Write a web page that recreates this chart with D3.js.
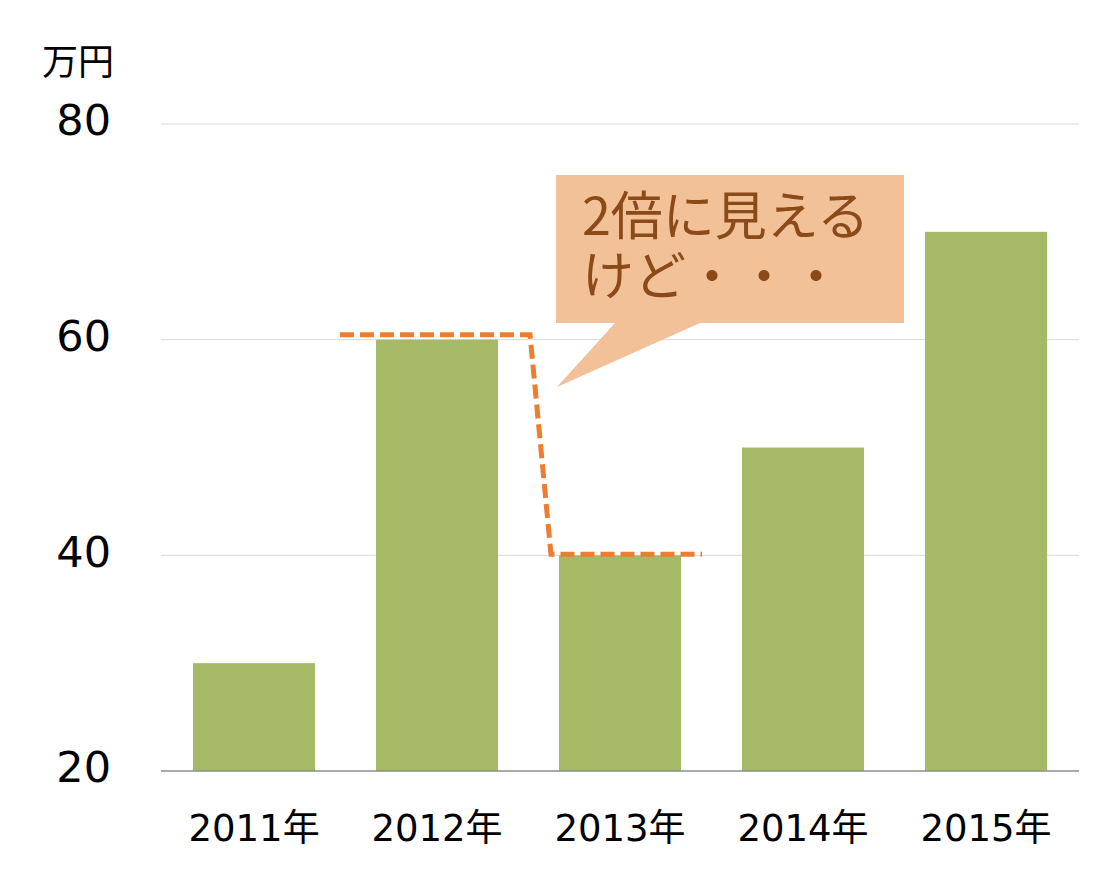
<!DOCTYPE html>
<html lang="ja">
<head>
<meta charset="utf-8">
<title>2倍に見えるけど</title>
<style>
  body { margin: 0; background: #fff; }
  svg { display: block; font-family: "Noto Sans CJK JP", "Noto Sans", sans-serif; }
</style>
<script src="https://cdn.jsdelivr.net/npm/d3@7"></script>
</head>
<body>
<script>
  // data
  let years = ["2011年", "2012年", "2013年", "2014年", "2015年"]
  let values = [30, 60, 40, 50, 70]
  let yTicks = [20, 40, 60, 80]
  let unitLabel = "万円"
  let calloutLines = ["2倍に見える", "けど・・・"]

  let width = 1106
  let height = 874
  let numFont = "'DejaVu Sans', 'Noto Sans CJK JP', sans-serif"

  let svg = d3.select("body").append("svg")
      .attr("width", width)
      .attr("height", height)

  let x = d3.scaleBand()
      .domain(years)
      .range([161, 1079])
      .paddingInner(0.333)
      .paddingOuter(0.175)

  let y = d3.scaleLinear()
      .domain([20, 80])
      .range([771, 124])

  // gridlines
  svg.append("g")
      .selectAll("line")
      .data(yTicks.filter(d => d !== 20))
      .join("line")
      .attr("x1", 161)
      .attr("x2", 1079)
      .attr("y1", d => y(d))
      .attr("y2", d => y(d))
      .attr("stroke", "#d9d9d9")
      .attr("stroke-width", 1)

  // y axis labels
  let yAxis = d3.axisLeft(y)
      .tickValues(yTicks)
      .tickSize(0)
      .tickPadding(50)
  svg.append("g")
      .attr("transform", "translate(161,0)")
      .call(yAxis)
      .call(g => g.select(".domain").remove())
      .selectAll("text")
      .attr("font-size", 43)
      .attr("font-family", numFont)
      .attr("fill", "#000")
      .attr("dy", "0.25em")

  svg.append("text")
      .attr("x", 114)
      .attr("y", 75)
      .attr("text-anchor", "end")
      .attr("font-size", 36)
      .attr("fill", "#000")
      .text(unitLabel)

  // bars
  svg.append("g")
      .selectAll("rect")
      .data(values)
      .join("rect")
      .attr("x", (d, i) => x(years[i]))
      .attr("y", d => y(d))
      .attr("width", x.bandwidth())
      .attr("height", d => y(20) - y(d))
      .attr("fill", "#a5b966")

  // x axis
  let xAxis = d3.axisBottom(x).tickSize(0).tickPadding(48)
  svg.append("g")
      .attr("transform", `translate(0,${y(20)})`)
      .call(xAxis)
      .call(g => g.select(".domain").attr("stroke", "#8c8c8c").attr("stroke-width", 1.3)
          .attr("d", "M161,0H1079"))
      .selectAll("text")
      .attr("font-size", 37)
      .attr("font-family", numFont)
      .attr("fill", "#000")
      .attr("dy", "0.6em")

  // dashed comparison line
  let bw = x.bandwidth()
  let dashPts = [
    [x("2012年") - 36, y(60.45)],
    [x("2012年") + bw + 32, y(60.45)],
    [x("2013年") - 8, y(40.1)],
    [x("2013年") + bw + 21, y(40.1)]
  ]
  svg.append("path")
      .attr("d", d3.line()(dashPts))
      .attr("fill", "none")
      .attr("stroke", "#ed7d31")
      .attr("stroke-width", 5)
      .attr("stroke-dasharray", "14,6")

  // callout
  let bx0 = 556, bx1 = 904, by0 = 175, by1 = 323
  let callout = d3.path()
  callout.moveTo(bx0, by0)
  callout.lineTo(bx1, by0)
  callout.lineTo(bx1, by1)
  callout.lineTo(700, by1)
  callout.lineTo(557, 387)
  callout.lineTo(615, by1)
  callout.lineTo(bx0, by1)
  callout.closePath()
  svg.append("path")
      .attr("d", callout.toString())
      .attr("fill", "#f2c197")

  svg.append("g")
      .selectAll("text")
      .data(calloutLines)
      .join("text")
      .attr("x", 582)
      .attr("y", (d, i) => 235 + i * 60)
      .attr("font-size", 52)
      .attr("fill", "#8b4a1a")
      .text(d => d)
</script>
</body>
</html>
